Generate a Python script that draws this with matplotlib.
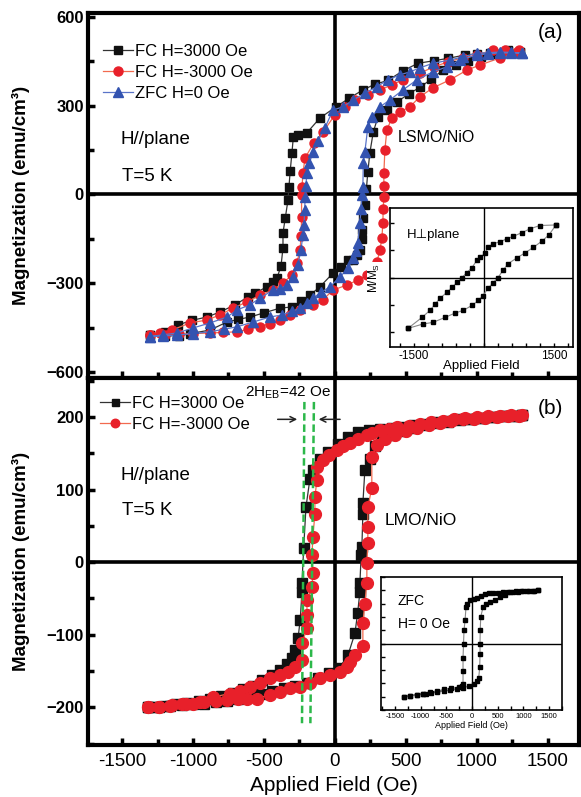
import matplotlib
matplotlib.use("Agg")
import matplotlib.pyplot as plt
from matplotlib.legend_handler import HandlerLine2D
from matplotlib.ticker import MultipleLocator

plt.rcParams['font.family'] = ['Liberation Sans', 'DejaVu Sans']
plt.rcParams['mathtext.fontset'] = 'custom'
plt.rcParams['mathtext.rm'] = 'Liberation Sans'
plt.rcParams['mathtext.it'] = 'Liberation Sans:italic'

# ---------------- panel (a): LSMO/NiO loops ----------------
# FC H=3000 Oe (black squares)
a_fcp_dn_H = [1303, 1218, 1092, 1000, 915, 800, 700, 585, 480, 373, 280, 197, 100, 7, -106, -200, -260, -293, -303, -315,
              -324, -331, -350, -366, -366, -380, -408, -437, -479, -563, -613, -704, -810, -901, -1007, -1106, -1197, -1303]
a_fcp_dn_M = [481, 488, 478, 475, 471, 460, 452, 443, 418, 385, 372, 353, 325, 296, 258, 207, 200, 194, 140, 80,
              25, -20, -80, -130, -181, -242, -282, -296, -312, -333, -346, -373, -397, -414, -425, -441, -464, -475]
a_fcp_up_H = [-1303, -1200, -1100, -1021, -880, -761, -680, -599, -500, -387, -303, -240, -176, -106, -14, 40, 92, 130, 155, 175,
              190, 190, 200, 211, 222, 232, 246, 270, 303, 366, 437, 520, 600, 680, 761, 850, 940, 1030, 1120, 1218, 1303]
a_fcp_up_M = [-475, -477, -478, -470, -458, -431, -422, -414, -400, -384, -380, -360, -340, -312, -266, -245, -222, -222, -205, -188,
              -150, -120, -80, -35, 20, 76, 140, 210, 262, 285, 312, 340, 362, 390, 420, 438, 452, 464, 474, 486, 481]

# FC H=-3000 Oe (red circles)
a_fcm_dn_H = [1300, 1200, 1113, 1000, 900, 800, 700, 600, 479, 400, 317, 230, 141, 70, 0, -82, -150, -211, -225, -232,
              -235, -235, -238, -246, -268, -303, -366, -437, -528, -620, -718, -810, -901, -1021, -1148, -1230, -1303]
a_fcm_dn_M = [488, 488, 488, 471, 462, 448, 432, 410, 387, 370, 353, 335, 319, 295, 269, 212, 173, 123, 72, 25,
              -2, -76, -140, -188, -231, -272, -299, -323, -340, -363, -384, -407, -424, -434, -458, -468, -475]
a_fcm_up_H = [-1303, -1200, -1100, -1000, -880, -790, -690, -610, -528, -460, -387, -320, -246, -155, -85, -14, 85, 162, 225, 260,
              296, 317, 331, 338, 340, 345, 345, 345, 352, 366, 401, 458, 528, 599, 690, 810, 930, 1021, 1162, 1282]
a_fcm_up_M = [-475, -474, -472, -470, -468, -466, -464, -455, -447, -436, -424, -408, -390, -373, -356, -323, -306, -289, -272, -255,
              -228, -188, -147, -97, -50, -8, 30, 72, 150, 218, 258, 279, 296, 330, 360, 387, 420, 437, 461, 481]

# ZFC H=0 Oe (blue triangles)
a_zfc_dn_H = [1317, 1240, 1162, 1080, 1000, 901, 810, 690, 600, 528, 458, 373, 295, 211, 127, 56, -14, -70, -120, -155,
              -180, -197, -205, -210, -213, -218, -225, -240, -261, -296, -338, -385, -437, -528, -599, -690, -760, -880,
              -1000, -1113, -1210, -1303]
a_zfc_dn_M = [478, 480, 481, 479, 477, 465, 454, 443, 428, 414, 404, 387, 364, 342, 319, 296, 285, 225, 180, 144,
              105, 72, 30, -10, -52, -103, -137, -188, -238, -279, -306, -318, -323, -350, -373, -390, -414, -434,
              -451, -468, -474, -480]
a_zfc_up_H = [-1303, -1210, -1113, -1000, -880, -780, -690, -577, -458, -373, -300, -246, -200, -155, -95, -35, 35, 92, 127, 150,
              162, 175, 185, 190, 197, 200, 211, 232, 260, 317, 387, 479, 577, 690, 789, 880, 1000, 1080, 1162, 1240, 1317]
a_zfc_up_M = [-480, -478, -475, -470, -464, -455, -447, -431, -414, -407, -395, -384, -368, -350, -330, -312, -279, -249, -216, -190,
              -164, -97, -50, -2, 25, 106, 144, 228, 262, 296, 319, 353, 387, 414, 431, 454, 471, 475, 478, 478, 478]

# inset (a): H perpendicular to plane, M/Ms
ia_dn_H = [1543, 1200, 986, 814, 621, 493, 343, 193, 86, 21, -86, -150, -257, -364, -471, -579, -686, -793, -943, -1050,
           -1157, -1329, -1629]
ia_dn_m = [0.96, 0.95, 0.89, 0.82, 0.75, 0.71, 0.65, 0.62, 0.55, 0.44, 0.37, 0.32, 0.18, 0.09, 0.0, -0.09, -0.18, -0.27,
           -0.38, -0.49, -0.60, -0.73, -0.93]
ia_up_H = [-1629, -1307, -1093, -836, -621, -443, -257, -121, -21, 86, 193, 300, 407, 514, 707, 879, 1057, 1250, 1393, 1543]
ia_up_m = [-0.93, -0.85, -0.82, -0.73, -0.65, -0.60, -0.51, -0.42, -0.33, -0.20, -0.10, 0.0, 0.13, 0.25, 0.36, 0.45, 0.55,
           0.67, 0.78, 0.96]

# ---------------- panel (b): LMO/NiO loops ----------------
b_fcp_dn_H = [1320, 1250, 1180, 1100, 1030, 960, 880, 800, 720, 640, 560, 480, 400, 320, 240, 160, 90, 20, -50, -106,
              -155, -176, -204, -220, -232, -232, -245, -260, -282, -303, -340, -387, -444, -514, -580, -650, -720, -800,
              -880, -960, -1040, -1120, -1200, -1280, -1320]
b_fcp_dn_M = [203, 202, 201, 200, 199, 198, 197, 195, 193, 191, 189, 187, 185, 183, 182, 179, 172, 163, 152, 143,
              127, 115, 76, 20, -28, -41, -80, -105, -121, -132, -140, -149, -156, -163, -170, -175, -180, -184,
              -188, -191, -194, -196, -198, -200, -200]
b_fcp_up_H = [-1320, -1240, -1160, -1080, -1000, -920, -840, -760, -680, -600, -520, -440, -360, -280, -200, -120, -40, 30,
              92, 141, 160, 176, 176, 185, 190, 197, 197, 211, 246, 280, 330, 400, 480, 560, 640, 720, 800, 880, 960,
              1040, 1120, 1200, 1280, 1320]
b_fcp_up_M = [-200, -199, -198, -197, -196, -195, -193, -191, -188, -185, -182, -178, -174, -170, -166, -160, -153, -146,
              -128, -98, -70, -41, -29, 10, 21, 67, 81, 127, 143, 160, 170, 176, 181, 185, 189, 192, 194, 196, 198,
              199, 200, 201, 202, 203]

b_fcm_dn_H = [1320, 1240, 1160, 1080, 1000, 920, 840, 760, 680, 600, 520, 440, 380, 317, 260, 225, 160, 106, 60, 14,
              -40, -85, -127, -127, -141, -141, -155, -162, -155, -162, -197, -197, -197, -232, -232, -282, -331, -387,
              -458, -528, -599, -669, -739, -859, -950, -1050, -1150, -1240, -1320]
b_fcm_dn_M = [203, 203, 202, 201, 200, 199, 197, 195, 193, 191, 188, 186, 184, 182, 178, 175, 170, 164, 160, 155,
              148, 141, 131, 113, 90, 67, 35, 10, -15, -34, -52, -73, -91, -112, -135, -145, -152, -156,
              -160, -167, -172, -177, -181, -186, -193, -195, -197, -199, -200]
b_fcm_up_H = [-1320, -1240, -1160, -1080, -1000, -920, -840, -760, -680, -620, -549, -458, -387, -317, -246, -176, -106, -35,
              35, 85, 106, 141, 197, 197, 211, 225, 225, 232, 232, 232, 260, 260, 300, 350, 420, 500, 580, 660, 740,
              820, 900, 980, 1060, 1140, 1220, 1300]
b_fcm_up_M = [-200, -199, -198, -196, -195, -193, -192, -190, -189, -188, -188, -183, -179, -174, -172, -167, -160, -156,
              -152, -145, -138, -128, -115, -84, -57, -28, -1, 26, 48, 76, 102, 145, 162, 170, 176, 181, 185, 189, 192,
              195, 197, 198, 199, 200, 201, 202]

# inset (b): ZFC loop
ib_dn_H = [1290, 1200, 1110, 994, 900, 799, 700, 604, 500, 400, 330, 253, 180, 97, 30, -39, -90, -117, -136, -156,
           -165, -175, -175, -175, -190, -253, -400, -545, -680, -814, -950, -1080, -1200, -1325]
ib_dn_M = [200, 199, 198, 197, 195, 193, 193, 192, 190, 189, 188, 185, 178, 170, 166, 163, 150, 136, 87, 49,
           0, -53, -102, -152, -160, -165, -168, -172, -180, -184, -188, -192, -196, -200]
ib_up_H = [-1325, -1200, -1080, -950, -896, -800, -680, -545, -420, -300, -175, -60, 39, 97, 130, 150, 156, 156, 160, 170,
           214, 280, 350, 450, 545, 640, 740, 850, 960, 1080, 1180, 1290]
ib_up_M = [-200, -196, -193, -190, -189, -186, -183, -178, -175, -171, -167, -160, -152, -140, -129, -90, -40, 0, 50, 100,
           136, 148, 155, 165, 174, 183, 193, 196, 197, 198, 199, 200]

# green guide lines for 2H_EB (ends: top, bottom)
eb_left_H = [-215, -232]
eb_right_H = [-148, -173]
eb_M = [221, -222]

xticks_main = [-1500, -1000, -500, 0, 500, 1000, 1500]


class MarkerAtEnd(HandlerLine2D):
    # Origin style legend: line with the marker near its right end
    def get_xdata(self, legend, xdescent, ydescent, width, height, fontsize):
        return [-xdescent, -xdescent + width], [-xdescent + width * 0.82]


def style_main(ax):
    for s in ax.spines.values():
        s.set_linewidth(3)
    ax.tick_params(which='both', direction='in', width=2.5, top=False, right=False)
    ax.tick_params(which='major', length=5)
    ax.tick_params(which='minor', length=4)
    ax.tick_params(axis='y', labelsize=12, pad=3)
    for t in ax.get_yticklabels():
        t.set_fontweight('bold')
    ax.axhline(0, color='k', lw=2.6, zorder=1)
    ax.axvline(0, color='k', lw=2.6, zorder=1)
    ax.xaxis.set_minor_locator(MultipleLocator(250))
    ax.set_xlim(-1740, 1720)


def style_inset(ax):
    for s in ax.spines.values():
        s.set_linewidth(1.2)
    ax.tick_params(which='both', direction='in', width=1.0, length=3, top=False, right=False)
    ax.axhline(0, color='k', lw=1.0, zorder=1)
    ax.axvline(0, color='k', lw=1.0, zorder=1)


fig = plt.figure(figsize=(5.81, 7.97), dpi=100)
ax_a = fig.add_axes([88 / 581, (797 - 378) / 797, 491 / 581, 365 / 797])
ax_b = fig.add_axes([88 / 581, (797 - 745) / 797, 491 / 581, 367 / 797])

# ---- panel (a)
la1, = ax_a.plot(a_fcp_dn_H + a_fcp_up_H, a_fcp_dn_M + a_fcp_up_M, '-', color='#333333', lw=0.9,
                 marker='s', ms=5.5, mfc='#111111', mec='#111111', label='FC H=3000 Oe', zorder=3)
la2, = ax_a.plot(a_fcm_dn_H + a_fcm_up_H, a_fcm_dn_M + a_fcm_up_M, '-', color='#f26a4f', lw=0.9,
                 marker='o', ms=6.5, mfc='#e8202a', mec='#e8202a', label='FC H=-3000 Oe', zorder=4)
la3, = ax_a.plot(a_zfc_dn_H + a_zfc_up_H, a_zfc_dn_M + a_zfc_up_M, '-', color='#5a74c8', lw=0.9,
                 marker='^', ms=7, mfc='#3353b0', mec='#3353b0', label='ZFC H=0 Oe', zorder=5)
ax_a.set_ylim(-620, 613)
ax_a.set_yticks([-600, -300, 0, 300, 600])
ax_a.yaxis.set_minor_locator(MultipleLocator(150))
ax_a.set_xticks(xticks_main)
ax_a.set_xticklabels([])
style_main(ax_a)
ax_a.legend(handles=[la1, la2, la3], loc='upper left', bbox_to_anchor=(0.03, 0.915), frameon=False,
            fontsize=12, handlelength=1.8, handletextpad=0.15, labelspacing=0.35, borderpad=0, borderaxespad=0,
            handler_map={matplotlib.lines.Line2D: MarkerAtEnd()})
ax_a.text(-1514, 184, 'H//plane', fontsize=13.5, va='center', ha='left')
ax_a.text(-1500, 59, 'T=5 K', fontsize=13.5, va='center', ha='left')
ax_a.text(444, 191, 'LSMO/NiO', fontsize=11.5, va='center', ha='left')
ax_a.text(1430, 546, '(a)', fontsize=15, va='center', ha='left')
ax_a.set_ylabel('Magnetization (emu/cm³)', fontsize=13.5, fontweight='bold')
ax_a.yaxis.set_label_coords(-0.118, 0.5)

# ---- panel (b)
lb1, = ax_b.plot(b_fcp_dn_H + b_fcp_up_H, b_fcp_dn_M + b_fcp_up_M, '-', color='#333333', lw=0.9,
                 marker='s', ms=7, mfc='#111111', mec='#111111', label='FC H=3000 Oe', zorder=3)
lb2, = ax_b.plot(b_fcm_dn_H + b_fcm_up_H, b_fcm_dn_M + b_fcm_up_M, '-', color='#f26a4f', lw=0.9,
                 marker='o', ms=8.5, mfc='#e8202a', mec='#e8202a', label='FC H=-3000 Oe', zorder=4)
ax_b.set_ylim(-252, 254)
ax_b.set_yticks([-200, -100, 0, 100, 200])
ax_b.yaxis.set_minor_locator(MultipleLocator(50))
ax_b.set_xticks(xticks_main)
ax_b.set_xticklabels([str(v) for v in xticks_main])
style_main(ax_b)
ax_b.tick_params(axis='x', labelsize=13.5, pad=6)
ax_b.legend(handles=[lb1, lb2], loc='upper left', bbox_to_anchor=(0.025, 0.951), frameon=False,
            fontsize=12, handlelength=1.8, handletextpad=0.1, labelspacing=0.35, borderpad=0, borderaxespad=0,
            markerscale=0.72, handler_map={matplotlib.lines.Line2D: MarkerAtEnd()})
ax_b.text(-1514, 120, 'H//plane', fontsize=13.5, va='center', ha='left')
ax_b.text(-1500, 72, 'T=5 K', fontsize=13.5, va='center', ha='left')
ax_b.text(352, 58, 'LMO/NiO', fontsize=12.5, va='center', ha='left')
ax_b.text(1430, 212, '(b)', fontsize=15, va='center', ha='left')
ax_b.plot(eb_left_H, eb_M, color='#2cb84a', lw=1.8, ls=(0, (3, 1.5)), zorder=6)
ax_b.plot(eb_right_H, eb_M, color='#2cb84a', lw=1.8, ls=(0, (3, 1.5)), zorder=6)
ax_b.text(-634, 234, r'2H$_{\rm EB}$=42 Oe', fontsize=11, va='center', ha='left')
ax_b.annotate('', xy=(-246, 197), xytext=(-423, 197), arrowprops=dict(arrowstyle='->', lw=1.1, color='#222222'))
ax_b.annotate('', xy=(-134, 197), xytext=(56, 197), arrowprops=dict(arrowstyle='->', lw=1.1, color='#222222'))
ax_b.set_ylabel('Magnetization (emu/cm³)', fontsize=13.5, fontweight='bold')
ax_b.yaxis.set_label_coords(-0.118, 0.5)
ax_b.set_xlabel('Applied Field (Oe)', fontsize=15, labelpad=4)

# ---- inset (a)
ins_a = fig.add_axes([390 / 581, (797 - 347) / 797, 183 / 581, 139 / 797])
ins_a.plot(ia_dn_H + ia_up_H, ia_dn_m + ia_up_m, '-', color='#888888', lw=0.8,
           marker='s', ms=2.6, mfc='k', mec='k', zorder=3)
ins_a.set_xlim(-2014, 1907)
ins_a.set_ylim(-1.27, 1.27)
ins_a.set_yticks([-1, -0.5, 0, 0.5, 1])
ins_a.set_yticklabels([])
ins_a.set_xticks([-1500, 1500])
ins_a.set_xticklabels(['-1500', '1500'], fontsize=8.5)
ins_a.xaxis.set_minor_locator(MultipleLocator(300))
style_inset(ins_a)
ins_a.tick_params(axis='x', pad=2)
ins_a.set_xlabel('Applied Field', fontsize=9.5, labelpad=-1)
ins_a.set_ylabel('M/M$_{\\rm S}$', fontsize=8.5, labelpad=2,
                 bbox=dict(facecolor='white', edgecolor='none', pad=0.5))
ins_a.text(-1660, 0.78, 'H⊥plane', fontsize=9.5, va='center', ha='left')

# ---- inset (b)
ins_b = fig.add_axes([381 / 581, (797 - 710) / 797, 181 / 581, 133 / 797])
ins_b.plot(ib_dn_H + ib_up_H, ib_dn_M + ib_up_M, '-', color='#888888', lw=0.8,
           marker='s', ms=2.4, mfc='k', mec='k', zorder=3)
ins_b.set_xlim(-1773, 1753)
ins_b.set_ylim(-250, 250)
ins_b.yaxis.set_major_locator(MultipleLocator(50))
ins_b.set_yticklabels([])
ins_b.set_xticks(xticks_main)
ins_b.set_xticklabels([str(v) for v in xticks_main], fontsize=5.5)
ins_b.xaxis.set_minor_locator(MultipleLocator(250))
style_inset(ins_b)
ins_b.tick_params(axis='x', pad=2)
ins_b.set_xlabel('Applied Field (Oe)', fontsize=6.5, labelpad=1)
ins_b.text(-1450, 160, 'ZFC', fontsize=10, va='center', ha='left')
ins_b.text(-1450, 75, 'H= 0 Oe', fontsize=10, va='center', ha='left')

fig.savefig('out.png', dpi=100)
